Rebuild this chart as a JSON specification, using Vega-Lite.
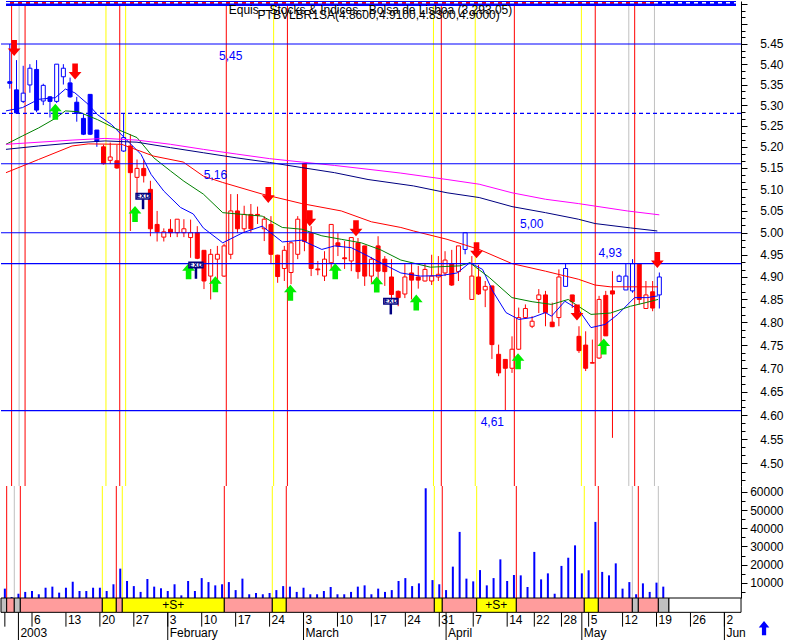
{
"$schema": "https://vega.github.io/schema/vega-lite/v6.json",
"padding": 0,
"spacing": 0,
"bounds": "flush",
"background": "#ffffff",
"config": {
 "view": {"stroke": null},
 "concat": {"spacing": 0},
 "axis": {"domainColor": "#000000", "tickColor": "#000000", "labelColor": "#000000", "labelFont": "Liberation Sans", "labelFontSize": 12, "grid": false, "labelAlign": "right", "labelPadding": 36, "labelBaseline": "middle", "domainWidth": 1, "tickWidth": 1, "labelOverlap": false, "labelBound": false, "labelFlush": false},
 "text": {"font": "Liberation Sans", "fontSize": 12}
},
"resolve": {"scale": {"x": "independent", "y": "independent"}},
"datasets": {
 "candles": [
{"t":0,"o":5.357,"h":5.45,"l":5.34,"c":5.353,"k":"b","v":6800},
{"t":1,"o":5.337,"h":5.41,"l":5.28,"c":5.281,"k":"b","v":2200},
{"t":2,"o":5.309,"h":5.396,"l":5.305,"c":5.329,"k":"b","v":4000},
{"t":3,"o":5.349,"h":5.4,"l":5.33,"c":5.39,"k":"b","v":5000},
{"t":4,"o":5.387,"h":5.41,"l":5.283,"c":5.288,"k":"b","v":5500},
{"t":5,"o":5.31,"h":5.352,"l":5.3,"c":5.348,"k":"b","v":3700},
{"t":6,"o":5.32,"h":5.322,"l":5.27,"c":5.309,"k":"b","v":7300},
{"t":7,"o":5.309,"h":5.4,"l":5.305,"c":5.4,"k":"b","v":7900},
{"t":8,"o":5.369,"h":5.4,"l":5.35,"c":5.39,"k":"b","v":4600},
{"t":9,"o":5.354,"h":5.367,"l":5.318,"c":5.32,"k":"b","v":7300},
{"t":10,"o":5.307,"h":5.32,"l":5.26,"c":5.28,"k":"b","v":10600},
{"t":11,"o":5.268,"h":5.279,"l":5.228,"c":5.23,"k":"b","v":5500},
{"t":12,"o":5.326,"h":5.326,"l":5.228,"c":5.23,"k":"b","v":5500},
{"t":13,"o":5.24,"h":5.24,"l":5.2,"c":5.213,"k":"b","v":7300},
{"t":14,"o":5.2,"h":5.205,"l":5.158,"c":5.16,"k":"r","v":7300},
{"t":15,"o":5.168,"h":5.21,"l":5.16,"c":5.176,"k":"r","v":5500},
{"t":16,"o":5.167,"h":5.205,"l":5.148,"c":5.15,"k":"r","v":9200},
{"t":17,"o":5.19,"h":5.279,"l":5.188,"c":5.222,"k":"b","v":17800},
{"t":18,"o":5.202,"h":5.23,"l":5.004,"c":5.139,"k":"r","v":11000},
{"t":19,"o":5.128,"h":5.17,"l":5.08,"c":5.149,"k":"r","v":8200},
{"t":20,"o":5.149,"h":5.17,"l":5.116,"c":5.132,"k":"r","v":5000},
{"t":21,"o":5.1,"h":5.12,"l":4.992,"c":5.009,"k":"r","v":12100},
{"t":22,"o":5.019,"h":5.05,"l":4.98,"c":5.002,"k":"r","v":7900},
{"t":23,"o":4.99,"h":5.01,"l":4.98,"c":5.002,"k":"r","v":7000},
{"t":24,"o":5.008,"h":5.031,"l":4.99,"c":5.0,"k":"r","v":5500},
{"t":25,"o":5.0,"h":5.031,"l":4.99,"c":5.031,"k":"r","v":9200},
{"t":26,"o":5.0,"h":5.031,"l":4.99,"c":5.009,"k":"r","v":3100},
{"t":27,"o":4.989,"h":5.03,"l":4.943,"c":5.0,"k":"r","v":11000},
{"t":28,"o":5.0,"h":5.015,"l":4.94,"c":4.942,"k":"r","v":5500},
{"t":29,"o":4.96,"h":4.96,"l":4.873,"c":4.891,"k":"r","v":12600},
{"t":30,"o":4.902,"h":4.963,"l":4.85,"c":4.951,"k":"r","v":10400},
{"t":31,"o":4.94,"h":4.97,"l":4.891,"c":4.951,"k":"r","v":8600},
{"t":32,"o":4.902,"h":4.975,"l":4.9,"c":4.97,"k":"r","v":9200},
{"t":33,"o":4.951,"h":5.089,"l":4.94,"c":5.05,"k":"r","v":10400},
{"t":34,"o":5.05,"h":5.089,"l":4.999,"c":5.009,"k":"r","v":6000},
{"t":35,"o":5.009,"h":5.062,"l":5.0,"c":5.042,"k":"r","v":12300},
{"t":36,"o":5.042,"h":5.066,"l":5.0,"c":5.009,"k":"r","v":3700},
{"t":37,"o":5.042,"h":5.06,"l":5.02,"c":5.04,"k":"r","v":4400},
{"t":38,"o":5.009,"h":5.038,"l":4.981,"c":5.031,"k":"r","v":3700},
{"t":39,"o":5.019,"h":5.038,"l":4.931,"c":4.951,"k":"r","v":4400},
{"t":40,"o":4.949,"h":4.95,"l":4.887,"c":4.901,"k":"r","v":6000},
{"t":41,"o":4.919,"h":4.97,"l":4.891,"c":4.96,"k":"r","v":8200},
{"t":42,"o":4.91,"h":4.98,"l":4.884,"c":4.977,"k":"r","v":7900},
{"t":43,"o":4.951,"h":5.038,"l":4.94,"c":5.031,"k":"r","v":5000},
{"t":44,"o":5.16,"h":5.16,"l":4.958,"c":4.98,"k":"r","v":7300},
{"t":45,"o":4.999,"h":5.015,"l":4.902,"c":4.919,"k":"r","v":3700},
{"t":46,"o":4.918,"h":4.936,"l":4.904,"c":4.916,"k":"r","v":3700},
{"t":47,"o":4.902,"h":4.958,"l":4.891,"c":4.94,"k":"r","v":5500},
{"t":48,"o":4.932,"h":5.019,"l":4.918,"c":5.019,"k":"r","v":7700},
{"t":49,"o":4.977,"h":4.999,"l":4.947,"c":4.97,"k":"r","v":3700},
{"t":50,"o":4.943,"h":4.981,"l":4.918,"c":4.941,"k":"r","v":3700},
{"t":51,"o":4.936,"h":4.99,"l":4.913,"c":4.989,"k":"r","v":5000},
{"t":52,"o":4.977,"h":4.988,"l":4.896,"c":4.912,"k":"r","v":7900},
{"t":53,"o":4.97,"h":4.97,"l":4.88,"c":4.902,"k":"r","v":8600},
{"t":54,"o":4.902,"h":4.945,"l":4.887,"c":4.94,"k":"r","v":3700},
{"t":55,"o":4.97,"h":4.992,"l":4.891,"c":4.913,"k":"r","v":6800},
{"t":56,"o":4.94,"h":4.947,"l":4.88,"c":4.912,"k":"r","v":5000},
{"t":57,"o":4.9,"h":4.94,"l":4.833,"c":4.861,"k":"r","v":6000},
{"t":58,"o":4.868,"h":4.87,"l":4.835,"c":4.854,"k":"r","v":11000},
{"t":59,"o":4.862,"h":4.929,"l":4.853,"c":4.9,"k":"r","v":12600},
{"t":60,"o":4.909,"h":4.93,"l":4.85,"c":4.893,"k":"r","v":8200},
{"t":61,"o":4.9,"h":4.925,"l":4.874,"c":4.893,"k":"r","v":9700},
{"t":62,"o":4.891,"h":4.93,"l":4.89,"c":4.917,"k":"r","v":62000},
{"t":63,"o":4.891,"h":4.95,"l":4.882,"c":4.902,"k":"r","v":11500},
{"t":64,"o":4.9,"h":4.947,"l":4.891,"c":4.906,"k":"r","v":9200},
{"t":65,"o":4.909,"h":4.958,"l":4.902,"c":4.938,"k":"r","v":6000},
{"t":66,"o":4.929,"h":4.961,"l":4.88,"c":4.882,"k":"r","v":18900},
{"t":67,"o":4.912,"h":4.97,"l":4.891,"c":4.97,"k":"r","v":38000},
{"t":68,"o":4.962,"h":5.0,"l":4.951,"c":5.0,"k":"b","v":12300},
{"t":69,"o":4.85,"h":4.947,"l":4.85,"c":4.902,"k":"r","v":10800},
{"t":70,"o":4.9,"h":4.927,"l":4.86,"c":4.862,"k":"r","v":17000},
{"t":71,"o":4.871,"h":4.891,"l":4.833,"c":4.879,"k":"r","v":8600},
{"t":72,"o":4.88,"h":4.88,"l":4.72,"c":4.751,"k":"r","v":12600},
{"t":73,"o":4.73,"h":4.751,"l":4.683,"c":4.69,"k":"r","v":22900},
{"t":74,"o":4.719,"h":4.719,"l":4.61,"c":4.7,"k":"r","v":11000},
{"t":75,"o":4.7,"h":4.769,"l":4.69,"c":4.741,"k":"r","v":14300},
{"t":76,"o":4.741,"h":4.832,"l":4.74,"c":4.81,"k":"r","v":14100},
{"t":77,"o":4.81,"h":4.839,"l":4.81,"c":4.83,"k":"r","v":7700},
{"t":78,"o":4.791,"h":4.813,"l":4.787,"c":4.802,"k":"r","v":27000},
{"t":79,"o":4.85,"h":4.873,"l":4.82,"c":4.86,"k":"r","v":11900},
{"t":80,"o":4.86,"h":4.869,"l":4.791,"c":4.821,"k":"r","v":15200},
{"t":81,"o":4.8,"h":4.843,"l":4.789,"c":4.79,"k":"r","v":4000},
{"t":82,"o":4.81,"h":4.917,"l":4.791,"c":4.9,"k":"r","v":19300},
{"t":83,"o":4.879,"h":4.93,"l":4.879,"c":4.919,"k":"b","v":23800},
{"t":84,"o":4.86,"h":4.86,"l":4.831,"c":4.845,"k":"r","v":30600},
{"t":85,"o":4.769,"h":4.791,"l":4.733,"c":4.738,"k":"r","v":15200},
{"t":86,"o":4.75,"h":4.78,"l":4.694,"c":4.7,"k":"r","v":16900},
{"t":87,"o":4.712,"h":4.762,"l":4.711,"c":4.711,"k":"r","v":43500},
{"t":88,"o":4.722,"h":4.858,"l":4.72,"c":4.85,"k":"r","v":16000},
{"t":89,"o":4.859,"h":4.869,"l":4.77,"c":4.77,"k":"r","v":14100},
{"t":90,"o":4.869,"h":4.913,"l":4.553,"c":4.862,"k":"r","v":20700},
{"t":91,"o":4.89,"h":4.905,"l":4.89,"c":4.902,"k":"b","v":6800},
{"t":92,"o":4.871,"h":4.93,"l":4.871,"c":4.902,"k":"b","v":10400},
{"t":93,"o":4.869,"h":4.94,"l":4.865,"c":4.93,"k":"b","v":3700},
{"t":94,"o":4.93,"h":4.93,"l":4.839,"c":4.85,"k":"r","v":9700},
{"t":95,"o":4.83,"h":4.891,"l":4.83,"c":4.86,"k":"r","v":5000},
{"t":96,"o":4.867,"h":4.891,"l":4.824,"c":4.831,"k":"r","v":10100},
{"t":97,"o":4.86,"h":4.91,"l":4.83,"c":4.9,"k":"b","v":7900}
 ],
 "ma": [
{"m":"m5","t":-0.57,"p":5.286},{"m":"m5","t":1.9,"p":5.294},{"m":"m5","t":4.3,"p":5.314},{"m":"m5","t":6.8,"p":5.318},{"m":"m5","t":8.3,"p":5.339},{"m":"m5","t":9.7,"p":5.33},{"m":"m5","t":11.7,"p":5.302},{"m":"m5","t":13.1,"p":5.277},{"m":"m5","t":15.2,"p":5.253},{"m":"m5","t":17.1,"p":5.222},{"m":"m5","t":19.6,"p":5.182},{"m":"m5","t":21.1,"p":5.135},{"m":"m5","t":23.0,"p":5.096},{"m":"m5","t":25.5,"p":5.058},{"m":"m5","t":27.4,"p":5.043},{"m":"m5","t":28.9,"p":5.011},{"m":"m5","t":31.8,"p":4.977},{"m":"m5","t":34.8,"p":5.0},{"m":"m5","t":37.7,"p":5.015},{"m":"m5","t":40.7,"p":4.979},{"m":"m5","t":43.6,"p":4.983},{"m":"m5","t":46.6,"p":4.962},{"m":"m5","t":48.5,"p":4.97},{"m":"m5","t":51.0,"p":4.966},{"m":"m5","t":53.5,"p":4.947},{"m":"m5","t":55.9,"p":4.928},{"m":"m5","t":58.4,"p":4.909},{"m":"m5","t":61.3,"p":4.902},{"m":"m5","t":64.3,"p":4.903},{"m":"m5","t":66.8,"p":4.909},{"m":"m5","t":68.7,"p":4.932},{"m":"m5","t":70.6,"p":4.917},{"m":"m5","t":72.1,"p":4.869},{"m":"m5","t":74.1,"p":4.821},{"m":"m5","t":76.0,"p":4.806},{"m":"m5","t":78.0,"p":4.81},{"m":"m5","t":80.0,"p":4.821},{"m":"m5","t":80.9,"p":4.813},{"m":"m5","t":82.9,"p":4.846},{"m":"m5","t":84.9,"p":4.828},{"m":"m5","t":86.8,"p":4.788},{"m":"m5","t":88.9,"p":4.795},{"m":"m5","t":90.8,"p":4.817},{"m":"m5","t":93.3,"p":4.854},{"m":"m5","t":95.2,"p":4.854},{"m":"m5","t":96.8,"p":4.858},
{"m":"m10","t":-0.57,"p":5.206},{"m":"m10","t":1.9,"p":5.226},{"m":"m10","t":4.3,"p":5.245},{"m":"m10","t":6.8,"p":5.268},{"m":"m10","t":8.3,"p":5.286},{"m":"m10","t":10.2,"p":5.284},{"m":"m10","t":13.1,"p":5.265},{"m":"m10","t":15.6,"p":5.245},{"m":"m10","t":19.0,"p":5.222},{"m":"m10","t":21.5,"p":5.174},{"m":"m10","t":24.0,"p":5.143},{"m":"m10","t":26.0,"p":5.119},{"m":"m10","t":28.9,"p":5.089},{"m":"m10","t":31.8,"p":5.046},{"m":"m10","t":34.8,"p":5.042},{"m":"m10","t":37.7,"p":5.038},{"m":"m10","t":40.7,"p":5.012},{"m":"m10","t":43.6,"p":5.008},{"m":"m10","t":46.6,"p":4.993},{"m":"m10","t":49.5,"p":4.985},{"m":"m10","t":52.5,"p":4.977},{"m":"m10","t":55.4,"p":4.961},{"m":"m10","t":58.4,"p":4.938},{"m":"m10","t":62.8,"p":4.922},{"m":"m10","t":67.2,"p":4.925},{"m":"m10","t":68.7,"p":4.932},{"m":"m10","t":71.6,"p":4.899},{"m":"m10","t":75.0,"p":4.854},{"m":"m10","t":78.0,"p":4.845},{"m":"m10","t":80.9,"p":4.839},{"m":"m10","t":83.4,"p":4.85},{"m":"m10","t":84.9,"p":4.835},{"m":"m10","t":86.8,"p":4.817},{"m":"m10","t":89.7,"p":4.82},{"m":"m10","t":92.7,"p":4.835},{"m":"m10","t":94.7,"p":4.842},{"m":"m10","t":96.8,"p":4.85},
{"m":"m30","t":-0.57,"p":5.139},{"m":"m30","t":4.3,"p":5.17},{"m":"m30","t":9.3,"p":5.202},{"m":"m30","t":11.7,"p":5.207},{"m":"m30","t":16.7,"p":5.206},{"m":"m30","t":21.5,"p":5.178},{"m":"m30","t":25.9,"p":5.164},{"m":"m30","t":28.9,"p":5.131},{"m":"m30","t":31.8,"p":5.116},{"m":"m30","t":37.7,"p":5.089},{"m":"m30","t":43.6,"p":5.067},{"m":"m30","t":49.5,"p":5.05},{"m":"m30","t":54.0,"p":5.025},{"m":"m30","t":58.4,"p":5.012},{"m":"m30","t":60.3,"p":5.004},{"m":"m30","t":65.3,"p":4.985},{"m":"m30","t":70.1,"p":4.962},{"m":"m30","t":75.0,"p":4.93},{"m":"m30","t":80.0,"p":4.913},{"m":"m30","t":84.9,"p":4.895},{"m":"m30","t":87.4,"p":4.882},{"m":"m30","t":89.7,"p":4.878},{"m":"m30","t":96.8,"p":4.878},
{"m":"m60","t":-0.57,"p":5.194},{"m":"m60","t":4.3,"p":5.202},{"m":"m60","t":9.3,"p":5.209},{"m":"m60","t":14.2,"p":5.214},{"m":"m60","t":19.0,"p":5.211},{"m":"m60","t":24.0,"p":5.198},{"m":"m60","t":28.9,"p":5.186},{"m":"m60","t":33.8,"p":5.174},{"m":"m60","t":38.8,"p":5.163},{"m":"m60","t":43.6,"p":5.151},{"m":"m60","t":48.5,"p":5.139},{"m":"m60","t":53.5,"p":5.123},{"m":"m60","t":60.3,"p":5.108},{"m":"m60","t":65.3,"p":5.092},{"m":"m60","t":70.1,"p":5.081},{"m":"m60","t":75.0,"p":5.06},{"m":"m60","t":80.0,"p":5.046},{"m":"m60","t":84.9,"p":5.031},{"m":"m60","t":87.4,"p":5.021},{"m":"m60","t":92.7,"p":5.011},{"m":"m60","t":96.7,"p":5.004},
{"m":"m90","t":-0.57,"p":5.206},{"m":"m90","t":9.3,"p":5.216},{"m":"m90","t":14.2,"p":5.22},{"m":"m90","t":19.0,"p":5.216},{"m":"m90","t":24.0,"p":5.206},{"m":"m90","t":28.9,"p":5.194},{"m":"m90","t":33.8,"p":5.183},{"m":"m90","t":38.8,"p":5.172},{"m":"m90","t":43.6,"p":5.164},{"m":"m90","t":48.5,"p":5.156},{"m":"m90","t":53.5,"p":5.147},{"m":"m90","t":58.4,"p":5.138},{"m":"m90","t":65.3,"p":5.123},{"m":"m90","t":70.1,"p":5.112},{"m":"m90","t":75.0,"p":5.092},{"m":"m90","t":80.0,"p":5.077},{"m":"m90","t":84.9,"p":5.067},{"m":"m90","t":92.2,"p":5.05},{"m":"m90","t":97.0,"p":5.041}
 ],
 "vlines": [
{"t":0.27,"k":"A"},{"t":2.28,"k":"A"},{"t":16.42,"k":"A"},{"t":32.33,"k":"A"},{"t":41.46,"k":"A"},{"t":64.44,"k":"A"},{"t":75.35,"k":"A"},{"t":87.43,"k":"A"},{"t":93.32,"k":"A"},
{"t":14.36,"k":"B"},{"t":17.3,"k":"B"},{"t":39.4,"k":"B"},{"t":63.27,"k":"B"},{"t":69.51,"k":"B"},{"t":85.36,"k":"B"},
{"t":1.39,"k":"C"},{"t":92.44,"k":"C"},{"t":96.27,"k":"C"}
 ],
 "levels": [
{"p":5.45,"k":"S"},{"p":5.28,"k":"D"},{"p":5.16,"k":"S"},{"p":5.0,"k":"S"},{"p":4.93,"k":"S"},{"p":4.61,"k":"S"}
 ],
 "levelLabels": [
{"t":33.0,"p":5.42,"s":"5,45"},{"t":30.7,"p":5.133,"s":"5,16"},{"t":77.95,"p":5.021,"s":"5,00"},{"t":89.67,"p":4.955,"s":"4,93"},{"t":72.06,"p":4.587,"s":"4,61"}
 ],
 "topl": [
{"k":"B","p":5.5515,"t0":-0.567,"t1":108.45},
{"k":"W","p":5.5535,"t0":-0.567,"t1":108.45},
{"k":"R","p":5.5535,"t0":-0.567,"t1":96.3}
 ],
 "arrows": [
{"t":0.65,"p":5.44,"d":"dn"},{"t":9.75,"p":5.382,"d":"dn"},{"t":38.6,"p":5.087,"d":"dn"},{"t":44.8,"p":5.033,"d":"dn"},{"t":51.7,"p":5.01,"d":"dn"},{"t":69.7,"p":4.96,"d":"dn"},{"t":84.7,"p":4.821,"d":"dn"},{"t":96.7,"p":4.938,"d":"dn"},
{"t":6.8,"p":5.284,"d":"up"},{"t":18.7,"p":5.043,"d":"up"},{"t":26.7,"p":4.913,"d":"up"},{"t":30.7,"p":4.884,"d":"up"},{"t":41.9,"p":4.865,"d":"up"},{"t":48.6,"p":4.913,"d":"up"},{"t":54.8,"p":4.883,"d":"up"},{"t":60.7,"p":4.843,"d":"up"},{"t":75.9,"p":4.715,"d":"up"},{"t":88.7,"p":4.747,"d":"up"}
 ],
 "exd": [
{"t":19.9,"p":5.084,"pb":5.077,"ps":5.054,"s":"EXD"},{"t":27.8,"p":4.927,"pb":4.921,"ps":4.896,"s":"EXD"},{"t":56.9,"p":4.846,"pb":4.84,"ps":4.817,"s":"EXD"}
 ],
 "titles": [
{"t":32.7,"p":5.548,"s":"Equis - Stocks & Indices - Bolsa de Lisboa (3,293.05)"},
{"t":37.0,"p":5.535,"s":"PTBVLBR1SA(4.8600,4.9100,4.8300,4.9000)"}
 ],
 "bands": [
{"t0":-0.567,"t1":0.27,"k":"G"},{"t0":0.27,"t1":1.39,"k":"X"},{"t0":1.39,"t1":2.28,"k":"G"},{"t0":2.28,"t1":14.36,"k":"X"},{"t0":14.36,"t1":16.42,"k":"Y"},{"t0":16.42,"t1":17.3,"k":"X"},{"t0":17.3,"t1":32.33,"k":"Y"},{"t0":32.33,"t1":39.4,"k":"X"},{"t0":39.4,"t1":41.46,"k":"Y"},{"t0":41.46,"t1":63.27,"k":"X"},{"t0":63.27,"t1":64.44,"k":"Y"},{"t0":64.44,"t1":69.51,"k":"X"},{"t0":69.51,"t1":75.35,"k":"Y"},{"t0":75.35,"t1":85.36,"k":"X"},{"t0":85.36,"t1":87.43,"k":"Y"},{"t0":87.43,"t1":92.44,"k":"X"},{"t0":92.44,"t1":93.32,"k":"G"},{"t0":93.32,"t1":96.27,"k":"X"},{"t0":96.27,"t1":97.83,"k":"G"},{"t0":97.83,"t1":108.45,"k":"E"}
 ],
 "slabels": [{"t":24.8,"s":"+S+"},{"t":72.4,"s":"+S+"}],
 "days": [
{"t":0,"s":""},{"t":4,"s":"6"},{"t":9,"s":"13"},{"t":14,"s":"20"},{"t":19,"s":"27"},{"t":24,"s":"3"},{"t":29,"s":"10"},{"t":34,"s":"17"},{"t":39,"s":"24"},{"t":44,"s":"3"},{"t":49,"s":"10"},{"t":54,"s":"17"},{"t":59,"s":"24"},{"t":64,"s":"31"},{"t":69,"s":"7"},{"t":74,"s":"14"},{"t":78,"s":"22"},{"t":82,"s":"28"},{"t":86,"s":"5"},{"t":91,"s":"12"},{"t":96,"s":"19"},{"t":101,"s":"26"},{"t":106,"s":"2"}
 ],
 "months": [
{"t":2,"s":"2003"},{"t":24,"s":"February"},{"t":44,"s":"March"},{"t":65,"s":"April"},{"t":85,"s":"May"},{"t":106,"s":"Jun"}
 ],
 "nav": [{"t":111.84}]
},
"vconcat": [
 {
  "width": 740, "height": 485,
  "layer": [
   {"data": {"name": "vlines"}, "mark": {"type": "rule", "strokeWidth": 1},
    "encoding": {
     "x": {"field": "t", "type": "quantitative", "scale": {"domain": [-0.567, 108.45], "nice": false, "zero": false}, "axis": null},
     "color": {"condition": [{"test": "datum.k=='A'", "value": "#ff0000"}, {"test": "datum.k=='B'", "value": "#ffff00"}], "value": "#c0c0c0"}}},
   {"data": {"name": "candles"}, "mark": {"type": "rule", "strokeWidth": 1},
    "encoding": {
     "x": {"field": "t", "type": "quantitative", "scale": {"domain": [-0.567, 108.45], "nice": false, "zero": false}, "axis": null},
     "y": {"field": "l", "type": "quantitative", "scale": {"type": "log", "domain": [4.454, 5.558], "nice": false},
      "axis": {"orient": "right", "title": null,
       "values": [4.4667,4.4833,4.5,4.5167,4.5333,4.55,4.5667,4.5833,4.6,4.6167,4.6333,4.65,4.6667,4.6833,4.7,4.7167,4.7333,4.75,4.7667,4.7833,4.8,4.8167,4.8333,4.85,4.8667,4.8833,4.9,4.9167,4.9333,4.95,4.9667,4.9833,5.0,5.0167,5.0333,5.05,5.0667,5.0833,5.1,5.1167,5.1333,5.15,5.1667,5.1833,5.2,5.2167,5.2333,5.25,5.2667,5.2833,5.3,5.3167,5.3333,5.35,5.3667,5.3833,5.4,5.4167,5.4333,5.45,5.4667,5.4833,5.5,5.5167,5.5333,5.55],
       "labelExpr": "abs(datum.value*20-round(datum.value*20))<0.01 && datum.value<5.47 ? format(datum.value,'.2f') : ''",
       "labelFontSize": {"condition": {"test": "abs(datum.value*20-round(datum.value*20))<0.01 && datum.value<5.47", "value": 12}, "value": 0},
       "tickSize": {"condition": {"test": "abs(datum.value*20-round(datum.value*20))<0.01", "value": 6}, "value": 4}}},
     "y2": {"field": "h"},
     "color": {"condition": {"test": "datum.k=='b'", "value": "#0000ff"}, "value": "#ff0000"}}},
   {"data": {"name": "candles"}, "mark": {"type": "bar", "width": 4, "strokeWidth": 1},
    "encoding": {
     "x": {"field": "t", "type": "quantitative", "scale": {"domain": [-0.567, 108.45], "nice": false, "zero": false}, "axis": null},
     "y": {"field": "o", "type": "quantitative", "scale": {"type": "log", "domain": [4.454, 5.558], "nice": false}},
     "y2": {"field": "c"},
     "fill": {"condition": [{"test": "datum.c>=datum.o", "value": "#ffffff"}, {"test": "datum.k=='b'", "value": "#0000ff"}], "value": "#ff0000"},
     "stroke": {"condition": {"test": "datum.k=='b'", "value": "#0000ff"}, "value": "#ff0000"}}},
   {"data": {"name": "ma"}, "mark": {"type": "line", "strokeWidth": 1},
    "encoding": {
     "x": {"field": "t", "type": "quantitative", "scale": {"domain": [-0.567, 108.45], "nice": false, "zero": false}, "axis": null},
     "y": {"field": "p", "type": "quantitative", "scale": {"type": "log", "domain": [4.454, 5.558], "nice": false}},
     "color": {"field": "m", "type": "nominal", "scale": {"domain": ["m5", "m10", "m30", "m60", "m90"], "range": ["#0000ff", "#008000", "#ff0000", "#000080", "#ff00ff"]}, "legend": null}}},
   {"data": {"name": "levels"}, "mark": {"type": "rule", "strokeWidth": 1.2, "color": "#0000ff"},
    "encoding": {
     "y": {"field": "p", "type": "quantitative", "scale": {"type": "log", "domain": [4.454, 5.558], "nice": false}},
     "strokeDash": {"condition": {"test": "datum.k=='D'", "value": [4, 3]}, "value": [1, 0]}}},
   {"data": {"name": "topl"}, "transform": [{"filter": "datum.k=='B'"}], "mark": {"type": "rule", "strokeWidth": 5, "color": "#0000ff"},
    "encoding": {
     "x": {"field": "t0", "type": "quantitative", "scale": {"domain": [-0.567, 108.45], "nice": false, "zero": false}, "axis": null},
     "x2": {"field": "t1"},
     "y": {"field": "p", "type": "quantitative", "scale": {"type": "log", "domain": [4.454, 5.558], "nice": false}}}},
   {"data": {"name": "topl"}, "transform": [{"filter": "datum.k=='W'"}], "mark": {"type": "rule", "strokeWidth": 1.5, "color": "#ffffff", "strokeDash": [4, 4]},
    "encoding": {
     "x": {"field": "t0", "type": "quantitative", "scale": {"domain": [-0.567, 108.45], "nice": false, "zero": false}, "axis": null},
     "x2": {"field": "t1"},
     "y": {"field": "p", "type": "quantitative", "scale": {"type": "log", "domain": [4.454, 5.558], "nice": false}}}},
   {"data": {"name": "topl"}, "transform": [{"filter": "datum.k=='R'"}], "mark": {"type": "rule", "strokeWidth": 1.5, "color": "#ff0000", "strokeDash": [4, 4], "strokeDashOffset": 4},
    "encoding": {
     "x": {"field": "t0", "type": "quantitative", "scale": {"domain": [-0.567, 108.45], "nice": false, "zero": false}, "axis": null},
     "x2": {"field": "t1"},
     "y": {"field": "p", "type": "quantitative", "scale": {"type": "log", "domain": [4.454, 5.558], "nice": false}}}},
   {"data": {"name": "arrows"}, "mark": {"type": "point", "filled": true, "size": 256, "opacity": 1, "strokeWidth": 0},
    "encoding": {
     "x": {"field": "t", "type": "quantitative", "scale": {"domain": [-0.567, 108.45], "nice": false, "zero": false}, "axis": null},
     "y": {"field": "p", "type": "quantitative", "scale": {"type": "log", "domain": [4.454, 5.558], "nice": false}},
     "shape": {"condition": {"test": "datum.d=='up'", "value": "M0,-1L0.8,-0.05L0.35,-0.05L0.35,1L-0.35,1L-0.35,-0.05L-0.8,-0.05Z"}, "value": "M0,1L0.8,0.05L0.35,0.05L0.35,-1L-0.35,-1L-0.35,0.05L-0.8,0.05Z"},
     "color": {"condition": {"test": "datum.d=='up'", "value": "#00ee00"}, "value": "#ff0000"}}},
   {"data": {"name": "exd"}, "mark": {"type": "rule", "strokeWidth": 2.5, "color": "#000080"},
    "encoding": {
     "x": {"field": "t", "type": "quantitative", "scale": {"domain": [-0.567, 108.45], "nice": false, "zero": false}, "axis": null},
     "y": {"field": "pb", "type": "quantitative", "scale": {"type": "log", "domain": [4.454, 5.558], "nice": false}},
     "y2": {"field": "ps"}}},
   {"data": {"name": "exd"}, "mark": {"type": "point", "shape": "M-1,-0.4L1,-0.4L1,0.4L-1,0.4Z", "size": 196, "fill": "#ffffff", "stroke": "#000080", "strokeWidth": 1.5, "opacity": 1, "filled": true},
    "encoding": {
     "x": {"field": "t", "type": "quantitative", "scale": {"domain": [-0.567, 108.45], "nice": false, "zero": false}, "axis": null},
     "y": {"field": "p", "type": "quantitative", "scale": {"type": "log", "domain": [4.454, 5.558], "nice": false}}}},
   {"data": {"name": "exd"}, "mark": {"type": "text", "fontSize": 6, "fontWeight": "bold", "color": "#000080", "align": "center", "baseline": "middle", "font": "DejaVu Sans"},
    "encoding": {
     "x": {"field": "t", "type": "quantitative", "scale": {"domain": [-0.567, 108.45], "nice": false, "zero": false}, "axis": null},
     "y": {"field": "p", "type": "quantitative", "scale": {"type": "log", "domain": [4.454, 5.558], "nice": false}},
     "text": {"field": "s"}}},
   {"data": {"name": "levelLabels"}, "mark": {"type": "text", "fontSize": 12, "color": "#0000ff", "align": "center", "baseline": "middle"},
    "encoding": {
     "x": {"field": "t", "type": "quantitative", "scale": {"domain": [-0.567, 108.45], "nice": false, "zero": false}, "axis": null},
     "y": {"field": "p", "type": "quantitative", "scale": {"type": "log", "domain": [4.454, 5.558], "nice": false}},
     "text": {"field": "s"}}},
   {"data": {"name": "titles"}, "mark": {"type": "text", "fontSize": 12, "color": "#000000", "align": "left", "baseline": "top"},
    "encoding": {
     "x": {"field": "t", "type": "quantitative", "scale": {"domain": [-0.567, 108.45], "nice": false, "zero": false}, "axis": null},
     "y": {"field": "p", "type": "quantitative", "scale": {"type": "log", "domain": [4.454, 5.558], "nice": false}},
     "text": {"field": "s"}}}
  ]
 },
 {
  "width": 740, "height": 112,
  "layer": [
   {"data": {"name": "vlines"}, "mark": {"type": "rule", "strokeWidth": 1},
    "encoding": {
     "x": {"field": "t", "type": "quantitative", "scale": {"domain": [-0.567, 108.45], "nice": false, "zero": false}, "axis": null},
     "color": {"condition": [{"test": "datum.k=='A'", "value": "#ff0000"}, {"test": "datum.k=='B'", "value": "#ffff00"}], "value": "#c0c0c0"}}},
   {"data": {"name": "candles"}, "mark": {"type": "rule", "strokeWidth": 2, "color": "#0000ff", "clip": true},
    "encoding": {
     "x": {"field": "t", "type": "quantitative", "scale": {"domain": [-0.567, 108.45], "nice": false, "zero": false}, "axis": null},
     "y": {"field": "v", "type": "quantitative", "scale": {"domain": [1650, 63250], "nice": false, "zero": false},
      "axis": {"orient": "right", "title": null, "values": [5000,10000,15000,20000,25000,30000,35000,40000,45000,50000,55000,60000],
       "labelExpr": "datum.value % 10000 == 0 ? format(datum.value,'d') : ''",
       "labelFontSize": {"condition": {"test": "datum.value % 10000 == 0", "value": 12}, "value": 0},
       "tickSize": {"condition": {"test": "datum.value % 10000 == 0", "value": 6}, "value": 4}}},
     "y2": {"datum": 0}}}
  ]
 },
 {
  "width": 787, "height": 43,
  "layer": [
   {"data": {"name": "bands"}, "mark": {"type": "rect", "stroke": "#000000", "strokeWidth": 1},
    "encoding": {
     "x": {"field": "t0", "type": "quantitative", "scale": {"domain": [-0.567, 115.37], "nice": false, "zero": false}, "axis": null},
     "x2": {"field": "t1"},
     "y": {"datum": 0, "type": "quantitative", "scale": {"domain": [0, 3], "reverse": true, "nice": false, "zero": false}, "axis": null},
     "y2": {"datum": 1},
     "fill": {"condition": [{"test": "datum.k=='X'", "value": "#ff9c9c"}, {"test": "datum.k=='Y'", "value": "#ffff00"}, {"test": "datum.k=='G'", "value": "#c0c0c0"}], "value": "#ffffff"}}},
   {"data": {"name": "slabels"}, "mark": {"type": "text", "fontSize": 12, "color": "#000000", "align": "center", "baseline": "middle"},
    "encoding": {
     "x": {"field": "t", "type": "quantitative", "scale": {"domain": [-0.567, 115.37], "nice": false, "zero": false}, "axis": null},
     "y": {"datum": 0.5, "type": "quantitative", "scale": {"domain": [0, 3], "reverse": true, "nice": false, "zero": false}, "axis": null},
     "text": {"field": "s"}}},
   {"data": {"name": "days"}, "mark": {"type": "rule", "strokeWidth": 1, "color": "#000000"},
    "encoding": {
     "x": {"field": "t", "type": "quantitative", "scale": {"domain": [-0.567, 115.37], "nice": false, "zero": false}, "axis": null},
     "y": {"datum": 1, "type": "quantitative", "scale": {"domain": [0, 3], "reverse": true, "nice": false, "zero": false}, "axis": null},
     "y2": {"datum": 2}}},
   {"data": {"name": "months"}, "mark": {"type": "rule", "strokeWidth": 1, "color": "#000000"},
    "encoding": {
     "x": {"field": "t", "type": "quantitative", "scale": {"domain": [-0.567, 115.37], "nice": false, "zero": false}, "axis": null},
     "y": {"datum": 1, "type": "quantitative", "scale": {"domain": [0, 3], "reverse": true, "nice": false, "zero": false}, "axis": null},
     "y2": {"datum": 3}}},
   {"data": {"name": "days"}, "mark": {"type": "text", "fontSize": 12, "color": "#000000", "align": "left", "baseline": "middle", "dx": 2},
    "encoding": {
     "x": {"field": "t", "type": "quantitative", "scale": {"domain": [-0.567, 115.37], "nice": false, "zero": false}, "axis": null},
     "y": {"datum": 1.5, "type": "quantitative", "scale": {"domain": [0, 3], "reverse": true, "nice": false, "zero": false}, "axis": null},
     "text": {"field": "s"}}},
   {"data": {"name": "months"}, "mark": {"type": "text", "fontSize": 12, "color": "#000000", "align": "left", "baseline": "middle", "dx": 2},
    "encoding": {
     "x": {"field": "t", "type": "quantitative", "scale": {"domain": [-0.567, 115.37], "nice": false, "zero": false}, "axis": null},
     "y": {"datum": 2.45, "type": "quantitative", "scale": {"domain": [0, 3], "reverse": true, "nice": false, "zero": false}, "axis": null},
     "text": {"field": "s"}}},
   {"data": {"name": "nav"}, "mark": {"type": "point", "filled": true, "size": 200, "opacity": 1, "color": "#0000ff", "shape": "M0,-1L0.75,-0.1L0.3,-0.1L0.3,1L-0.3,1L-0.3,-0.1L-0.75,-0.1Z"},
    "encoding": {
     "x": {"field": "t", "type": "quantitative", "scale": {"domain": [-0.567, 115.37], "nice": false, "zero": false}, "axis": null},
     "y": {"datum": 2.1, "type": "quantitative", "scale": {"domain": [0, 3], "reverse": true, "nice": false, "zero": false}, "axis": null}}}
  ]
 }
]
}
